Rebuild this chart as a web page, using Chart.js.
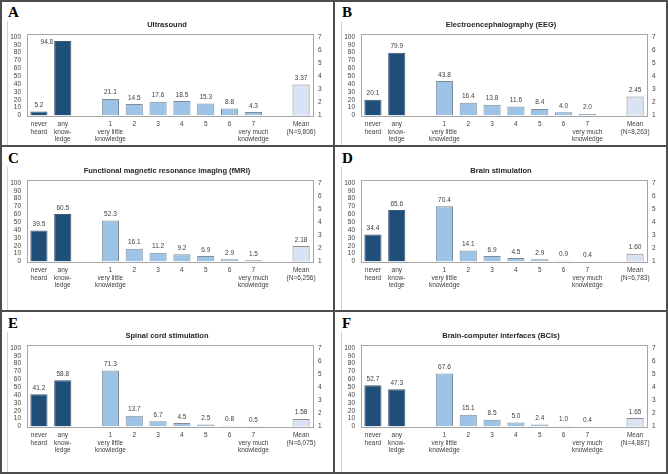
<!DOCTYPE html>
<html>
<head>
<meta charset="utf-8">
<script src="https://cdn.jsdelivr.net/npm/chart.js@4.4.1/dist/chart.umd.min.js"></script>
<style>
  body { margin: 0; background: #fff; }
  #page { position: relative; width: 668px; height: 474px; overflow: hidden; background: #fff; }
  .panel { position: absolute; }
  .panel canvas { position: absolute; left: 0; top: 0; }
  .frame { position: absolute; left: 7px; top: 10px; right: 0; bottom: 0; border-left: 1px solid #d0d0d0; }
  .letter { position: absolute; left: 6px; top: 4px; font: bold 15px "Liberation Serif", "DejaVu Serif", serif; color: #000; background: #fff; padding: 0 2px; }
  .rule { position: absolute; background: #4d4d4d; }
</style>
</head>
<body>
<div id="page"></div>
<script>
// panel data
const letters = ['A', 'B', 'C', 'D', 'E', 'F'];
const titles = ['Ultrasound', 'Electroencephalography (EEG)', 'Functional magnetic resonance imaging (fMRI)',
  'Brain stimulation', 'Spinal cord stimulation', 'Brain-computer interfaces (BCIs)'];
const neverHeard = [5.2, 20.1, 39.5, 34.4, 41.2, 52.7];
const anyKnowledge = [94.8, 79.9, 60.5, 65.6, 58.8, 47.3];
const ratings = [
  [21.1, 14.5, 17.6, 18.5, 15.3, 8.8, 4.3],
  [43.8, 16.4, 13.8, 11.6, 8.4, 4.0, 2.0],
  [52.3, 16.1, 11.2, 9.2, 6.9, 2.9, 1.5],
  [70.4, 14.1, 6.9, 4.5, 2.9, 0.9, 0.4],
  [71.3, 13.7, 6.7, 4.5, 2.5, 0.8, 0.5],
  [67.6, 15.1, 8.5, 5.0, 2.4, 1.0, 0.4]
];
const means = [3.37, 2.45, 2.18, 1.60, 1.58, 1.65];
const sampleSizes = ['9,806', '8,263', '6,256', '6,783', '6,075', '4,887'];
const categoryLabels = [['never', 'heard'], ['any', 'know-', 'ledge'], '',
  ['1', 'very little', 'knowledge'], '2', '3', '4', '5', '6', ['7', 'very much', 'knowledge'], ''];
const leftTicks = { min: 0, max: 100, step: 10 };
const rightTicks = { min: 1, max: 7, step: 1 };

const FONT = '"Liberation Sans", Arial, sans-serif';
const TEXT = '#404040';
const DARK = '#1F4E79';
const LIGHT = '#9DC3E6';
const MEANFILL = '#DAE3F3';

// left, top, height of each panel
const boxes = [[0, 0, 146], [334, 0, 146], [0, 146, 165], [334, 146, 165], [0, 311, 163], [334, 311, 163]];
const W = 334;

const page = document.getElementById('page');

const boxPlugin = {
  id: 'plotBox',
  beforeDatasetsDraw(chart) {
    const a = chart.chartArea, ctx = chart.ctx;
    ctx.save();
    ctx.strokeStyle = '#a6a6a6';
    ctx.lineWidth = 1;
    ctx.strokeRect(Math.round(a.left) + 0.5, Math.round(a.top) - 2.5, Math.round(a.right - a.left), Math.round(a.bottom - a.top) + 3);
    ctx.restore();
  }
};

const labelPlugin = {
  id: 'valueLabels',
  afterDatasetsDraw(chart) {
    const ctx = chart.ctx, top = chart.chartArea.top;
    ctx.save();
    ctx.font = '6.5px ' + FONT;
    ctx.fillStyle = TEXT;
    chart.data.datasets.forEach((ds, di) => {
      chart.getDatasetMeta(di).data.forEach((bar, j) => {
        const v = ds.data[j];
        if (v === null) return;
        const txt = di === 0 ? v.toFixed(1) : v.toFixed(2);
        if (bar.y - 11 < top) {
          ctx.textAlign = 'right';
          ctx.textBaseline = 'top';
          ctx.fillText(txt, bar.x - bar.width / 2 - 1, bar.y - 2);
        } else {
          ctx.textAlign = 'center';
          ctx.textBaseline = 'bottom';
          ctx.fillText(txt, bar.x, bar.y - 3);
        }
      });
    });
    ctx.restore();
  }
};

boxes.forEach((b, i) => {
  const [left, top, H] = b;
  const panel = document.createElement('div');
  panel.className = 'panel';
  panel.style.left = left + 'px';
  panel.style.top = top + 'px';
  panel.style.width = W + 'px';
  panel.style.height = H + 'px';
  const frame = document.createElement('div');
  frame.className = 'frame';
  panel.appendChild(frame);
  const canvas = document.createElement('canvas');
  canvas.width = W;
  canvas.height = H;
  panel.appendChild(canvas);
  const letter = document.createElement('div');
  letter.className = 'letter';
  letter.textContent = letters[i];
  panel.appendChild(letter);
  page.appendChild(panel);

  const values = [neverHeard[i], anyKnowledge[i], null].concat(ratings[i], [null, null]);
  const meanData = Array(11).fill(null).concat([means[i]]);
  const labels = categoryLabels.concat([['Mean', '(N=' + sampleSizes[i] + ')']]);
  const fills = values.map((v, j) => j < 2 ? DARK : LIGHT);
  const borders = values.map((v, j) => j < 2 ? '#3d5670' : '#7f8c99');

  new Chart(canvas, {
    type: 'bar',
    data: {
      labels: labels,
      datasets: [
        { data: values, yAxisID: 'y', grouped: false, backgroundColor: fills, borderColor: borders,
          borderWidth: 1, barPercentage: 0.72, categoryPercentage: 1 },
        { data: meanData, yAxisID: 'y2', grouped: false, backgroundColor: MEANFILL, borderColor: '#8c8c8c',
          borderWidth: 1, barPercentage: 0.72, categoryPercentage: 1 }
      ]
    },
    options: {
      responsive: false,
      animation: false,
      devicePixelRatio: 1,
      layout: { padding: 0 },
      plugins: {
        legend: { display: false },
        tooltip: { enabled: false },
        title: {
          display: true, text: titles[i], color: '#262626',
          font: { family: FONT, size: 7.5, weight: 'bold', lineHeight: 1.2 },
          padding: { top: 20.5, bottom: 7.5 }
        }
      },
      scales: {
        x: {
          grid: { display: false, drawTicks: false },
          border: { display: false },
          ticks: { autoSkip: false, maxRotation: 0, color: TEXT, padding: 5,
            font: { family: FONT, size: 6.5, lineHeight: 1.18 } },
          afterFit: s => { s.height = H - 115.5; }
        },
        y: {
          position: 'left', min: leftTicks.min, max: leftTicks.max,
          grid: { display: false, drawTicks: false },
          border: { display: false },
          ticks: { stepSize: leftTicks.step, autoSkip: false, color: TEXT, padding: 6, font: { family: FONT, size: 6.5 } },
          afterFit: s => { s.width = 27; }
        },
        y2: {
          position: 'right', min: rightTicks.min, max: rightTicks.max,
          grid: { display: false, drawTicks: false },
          border: { display: false },
          ticks: { stepSize: rightTicks.step, autoSkip: false, color: TEXT, padding: 5, font: { family: FONT, size: 6.5 } },
          afterFit: s => { s.width = 21; }
        }
      }
    },
    plugins: [boxPlugin, labelPlugin]
  });
});

// panel rules
[[0, 0, 668, 2], [0, 472, 668, 2], [0, 0, 2, 474], [666, 0, 2, 474],
 [333, 0, 2, 474], [0, 145, 668, 2], [0, 310, 668, 2]].forEach(r => {
  const d = document.createElement('div');
  d.className = 'rule';
  d.style.left = r[0] + 'px';
  d.style.top = r[1] + 'px';
  d.style.width = r[2] + 'px';
  d.style.height = r[3] + 'px';
  page.appendChild(d);
});
</script>
</body>
</html>
